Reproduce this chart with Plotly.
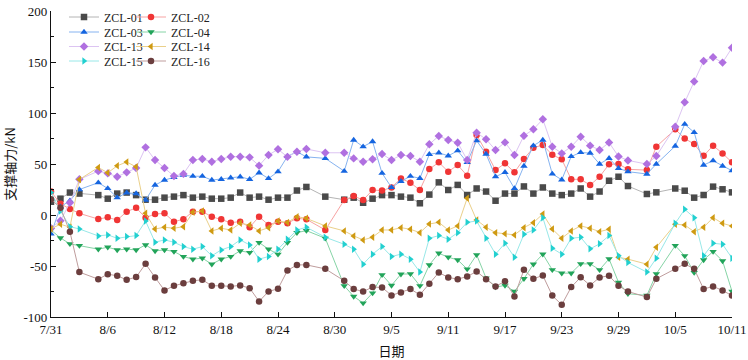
import plotly.graph_objects as go
from datetime import date, timedelta

# day offsets from 7/31 (missing days: 8/4, 8/28, 8/30, 10/1, 10/4)
day_offsets = [0, 1, 2, 3, 5, 6, 7, 8, 9, 10, 11, 12, 13, 14, 15, 16, 17, 18, 19, 20,
               21, 22, 23, 24, 25, 26, 27, 29, 31, 32, 33, 34, 35, 36, 37, 38, 39, 40,
               41, 42, 43, 44, 45, 46, 47, 48, 49, 50, 51, 52, 53, 54, 55, 56, 57, 58,
               59, 60, 61, 63, 64, 66, 67, 68, 69, 70, 71, 72]
start = date(2023, 7, 31)
dates = [(start + timedelta(days=d)).isoformat() for d in day_offsets]

zcl01 = [13, 16, 22, 21, 19.5, 16, 21, 22, 19.5, 15, 15, 17, 18, 19.5, 17, 18, 16, 16, 17, 22,
         17, 18, 15, 17, 17, 24, 27.5, 18, 15, 17, 12, 16, 19.5, 19.5, 18, 17, 11.5, 20,
         32, 24.5, 29.5, 19.6, 26, 23, 14, 21, 21, 28, 21, 27, 21, 19.5, 21, 26, 18, 23,
         33.6, 37.5, 28.4, 20.6, 22.2, 26, 23.8, 17, 19.6, 27.8, 25.2, 22.2]
zcl02 = [23, 11, 6, 1.6, -4, -2.3, -5, 3.3, 7, -2.6, 1, 1.6, -6.5, -4.2, 3.3, 3.3, -1.6, -4.2, -7.5, -6.5,
         -12, -1.6, -9.8, -6.5, -8, -3.3, -4.2, -14.7, 14.7, 18.6, 14.7, 24.4, 24, 27, 35.8, 31.6, 24.5, 45,
         51.6, 42.5, 49, 38.5, 78.4, 62, 44, 50.7, 41.8, 55, 66, 68.6, 59, 54.6, 35, 35, 29.3, 37.5,
         49.7, 50, 44.8, 44, 67, 84, 75, 69.5, 58, 68, 60.4, 51.6]
zcl03 = [-18.6, 8, 14, 25, 31.7, 26, 17, 21.8, 21, 14.7, 29.3, 34.2, 37, 39, 38, 38, 34.2, 35, 36.5, 37.5,
         35, 41.4, 35.8, 42.5, 57.5, 62, 57, 55.5, 43, 73.5, 67, 72, 41, 27, 33, 38, 36, 59.5,
         61, 58, 63, 51.6, 72.9, 59.8, 37.6, 41.8, 26, 48, 68, 73.5, 40.3, 34.5, 57.4, 61.3, 60.7, 50,
         55.6, 45.8, 42.5, 40.2, 50, 67.6, 89, 81, 49, 53.2, 48, 43.4]
zcl04 = [-14.7, -22.5, -28.3, -30, -33.5, -31.6, -34.2, -33.5, -34.2, -29.3, -35.2, -34.2, -35.8, -40.7, -43.3, -42.3, -48.2, -43.3, -40.7, -35.2,
         -36.8, -27, -33.5, -38.5, -27, -17.3, -15.3, -22.8, -69.4, -79.8, -86.3, -76.5, -58.6, -69, -58, -57.7, -69.4, -48.9,
         -37.5, -41.4, -44, -53, -39, -61.9, -70.7, -69, -74.9, -62.5, -48.2, -38.4, -53.7, -57, -57, -47.9, -47.9, -53.7,
         -43, -66, -77.2, -78.8, -57.7, -30, -40, -56.4, -44, -35.8, -45, -74.9]
zcl13 = [-13, -5.6, 12, 35, 43, 40.8, 37.6, 41.8, 46, 66.3, 53.9, 46, 38.2, 40.3, 53.9, 54.9, 52.3, 54.9, 57.2, 57.2,
         56.5, 48.4, 58.8, 64.4, 57, 62, 64.7, 61, 61, 55.5, 52.3, 54.6, 59.8, 53.9, 58.8, 57.8, 52.3, 69.3,
         77.5, 73.5, 70.9, 54, 80.7, 74.2, 63.7, 71.2, 58.8, 77.7, 84, 93.8, 67, 60.4, 67, 76.8, 68, 63.7,
         71, 57.4, 53.5, 49.9, 57.8, 86.6, 110.5, 130.8, 151, 154.6, 149.4, 164]
zcl14 = [-13.5, -9, -12, 34.8, 46.6, 41.4, 48.2, 52, 47.2, 1.6, -13.7, -12, -13, -11.4, 2.6, 3.9, -15.6, -13, -14.7, -8.1,
         -9.8, -15.6, -12.4, -5.9, -7.3, -1.6, -3.3, -10.7, -15.6, -20.5, -24.4, -21.8, -14.7, -14.7, -12.4, -14, -17.3, -8.8,
         -7.2, -14.7, -10.7, 16.4, -5, -12, -17.3, -18.5, -19.5, -12.4, -7.5, 1, -13.7, -22.8, -15.6, -10.7, -13, -16.3,
         -14, -41.4, -43.3, -48.2, -31.7, -9, -9.8, -16.4, -12.1, -2.6, -8.2, -10.8]
zcl15 = [22, 4, -11.4, -13.7, -20.5, -19.5, -22.8, -21.2, -20.2, -5.9, -26.7, -24.4, -26.7, -31, -33.5, -31, -40, -34.2, -31, -24.4,
         -29.3, -43.3, -40.7, -33.5, -23.8, -14.7, -12, -21.8, -28.7, -33.5, -48.2, -38.4, -31, -40.7, -38.4, -43.3, -56, -22.8,
         -20.2, -23.8, -17.3, -7.2, -5.9, -22.8, -38.4, -27.7, -41.4, -18.9, -14.7, -2.6, -32.6, -38.4, -22.8, -21.8, -33.2, -28.3,
         -20.2, -40, -46.6, -56, -42.3, -8.2, 5.6, -2.6, -40, -27.7, -28.7, -42.3]
zcl16 = [15.4, 7, -16.4, -56, -62.9, -58, -59.6, -63.5, -60.9, -47.9, -61.2, -73.9, -69.4, -66.8, -64.5, -63.5, -69.4, -69.4, -70, -69,
         -71.7, -84.7, -75, -72.3, -54.4, -48.9, -48.9, -52.8, -64.5, -72.6, -75, -70.7, -71, -78.8, -75.9, -72.6, -78.2, -67.4,
         -56.4, -61.2, -62.9, -60.3, -55.4, -62.9, -70, -65, -79.8, -53.7, -62.5, -59.3, -79, -88, -70.7, -61, -69, -61.2,
         -59.6, -69.4, -75, -80.5, -62.5, -52.8, -47.9, -52.8, -72.6, -70, -74, -79]

names = ["ZCL-01", "ZCL-02", "ZCL-03", "ZCL-04", "ZCL-13", "ZCL-14", "ZCL-15", "ZCL-16"]
series = [zcl01, zcl02, zcl03, zcl04, zcl13, zcl14, zcl15, zcl16]
marker_colors = ["#4a4a4a", "#f03535", "#1565e0", "#22a45a", "#b070e0", "#cf9a12", "#22d0d0", "#6b3e3e"]
line_colors = ["#b4b4b4", "#f7a3a3", "#86b3f0", "#86d4a6", "#dcc4f2", "#ead08a", "#98e8e8", "#bf9d9d"]
symbols = ["square", "circle", "triangle-up", "triangle-down", "diamond", "triangle-left", "triangle-right", "circle"]

x_ticks = ["2023-07-31", "2023-08-06", "2023-08-12", "2023-08-18", "2023-08-24", "2023-08-30",
           "2023-09-05", "2023-09-11", "2023-09-17", "2023-09-23", "2023-09-29", "2023-10-05", "2023-10-11"]
x_ticklabels = ["7/31", "8/6", "8/12", "8/18", "8/24", "8/30", "9/5", "9/11", "9/17", "9/23", "9/29", "10/5", "10/11"]
y_ticks = [-100, -50, 0, 50, 100, 150, 200]
y_ticklabels = ["-100", "-50", "0", "50", "100", "150", "200"]

W, H = 748, 360
ML, MR, MT, MB = 51, 16, 11, 43
PW, PH = W - ML - MR, H - MT - MB
fig = go.Figure()

# legend placement (screen pixel positions converted to paper coordinates)
col_x = [64, 131]
row_y = [17, 32, 46.5, 61]
legend_layout = {}
for i, (nm, vals) in enumerate(zip(names, series)):
    lname = "legend" if i == 0 else f"legend{i+1}"
    col = i % 2
    row = i // 2
    fig.add_trace(go.Scatter(
        x=dates, y=vals, name=nm, mode="lines+markers",
        line=dict(color=line_colors[i], width=1),
        marker=dict(color=marker_colors[i], symbol=symbols[i], size=6.5,
                    line=dict(width=0)),
        legend=lname, showlegend=True,
    ))
    legend_layout[lname] = dict(
        x=(col_x[col] - ML) / PW, y=1 - (row_y[row] - MT) / PH,
        xref="paper", yref="paper",
        xanchor="left", yanchor="middle", bgcolor="rgba(0,0,0,0)",
        font=dict(family="Liberation Serif", size=12, color="#222"),
        itemwidth=30, borderwidth=0, visible=True,
    )

fig.update_layout(
    width=W, height=H, showlegend=True,
    margin=dict(l=ML, r=MR, t=MT, b=MB, autoexpand=False),
    plot_bgcolor="white", paper_bgcolor="white",
    font=dict(family="Liberation Serif, Noto Sans CJK SC", size=13, color="#111"),
    **legend_layout,
)
fig.update_xaxes(
    type="date", range=["2023-07-31", "2023-10-11"],
    tickvals=x_ticks, ticktext=x_ticklabels, ticklabeloverflow="allow",
    ticks="inside", ticklen=5, tickwidth=1, tickcolor="#111",
    showline=True, linecolor="#111", linewidth=1.3, mirror=False,
    showgrid=False, zeroline=False,
    title=dict(text="日期", font=dict(family="Noto Sans CJK SC", size=13), standoff=12),
    tickfont=dict(family="Liberation Serif", size=13),
)
fig.update_yaxes(
    range=[-100, 200], tickvals=y_ticks, ticktext=y_ticklabels, ticklabeloverflow="allow",
    ticks="inside", ticklen=5, tickwidth=1, tickcolor="#111",
    minor=dict(tickvals=[-75, -25, 25, 75, 125, 175], ticks="inside", ticklen=3, tickcolor="#111"),
    showline=True, linecolor="#111", linewidth=1.3, mirror=False,
    showgrid=False, zeroline=False,
    title=dict(text="支撑轴力/kN", font=dict(family="Noto Sans CJK SC", size=13), standoff=10),
    tickfont=dict(family="Liberation Serif", size=13),
)

# remove the browser's default 8px body margin so the figure fills the window exactly
fig.write_html("out.html", config={"displayModeBar": False},
               post_script="document.body.style.margin='0px';")
